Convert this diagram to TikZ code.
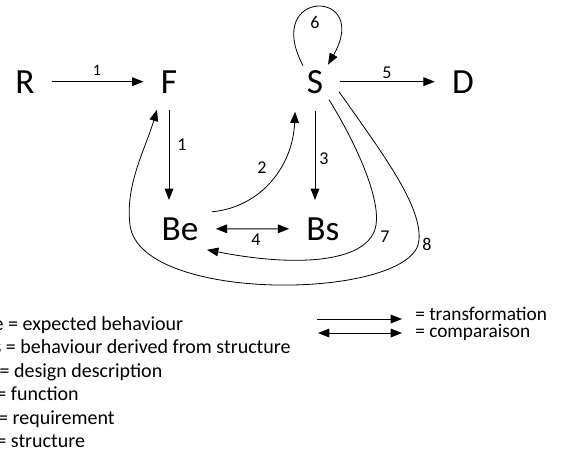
\documentclass[tikz,border=0pt]{standalone}
\usepackage{fontspec}
\setmainfont{Carlito}
\usetikzlibrary{arrows.meta}
\tikzset{
  letter/.style={inner sep=0pt, outer sep=13pt, anchor=base, font=\fontsize{26.5}{31}\selectfont},
  num/.style={inner sep=0.75pt, font=\fontsize{13.5}{16}\selectfont},
  legend/.style={inner sep=0pt, anchor=base west, font=\fontsize{15}{18}\selectfont},
  tip/.style={-{Triangle[length=8.5pt,width=6.5pt]}, line width=0.75pt},
  both/.style={{Triangle[length=8.5pt,width=6.5pt]}-{Triangle[length=8.5pt,width=6.5pt]}, line width=0.75pt},
  curve/.style={tip, line width=0.6pt}
}
\begin{document}
\begin{tikzpicture}[x=0.75pt,y=0.75pt,yscale=-1,xscale=1]
\useasboundingbox (0,0) rectangle (566,451);
\clip (0,0) rectangle (566,451);
\node[letter] (R) at (25,93) {R};
\node[letter] (F) at (169,93) {F};
\node[letter] (S) at (315,93) {S};
\node[letter] (D) at (463,93) {D};
\node[letter] (Be) at (180,240) {Be};
\node[letter] (Bs) at (323,240) {Bs};
\draw[tip] (R) -- (F);
\draw[tip] (F.south) -- (F.south |- Be.north);
\draw[tip] (S.south) -- (S.south |- Bs.north);
\draw[tip] (S.east) -- (S.east -| D.west);
\draw[both] (Be) -- (Bs);
\draw[curve] ([shift={(32,-17)}]Be.center) .. controls (262,207) and (293,165) .. ([shift={(-20,30)}]S.center);
\draw[curve] ([shift={(14,18)}]S.center) .. controls (360,150) and (380,200) .. (376,225) .. controls (370,262) and (300,268) .. ([shift={(27,21)}]Be.center);
\draw[curve] ([shift={(24,10)}]S.center) .. controls (380,150) and (422,205) .. (419,240) .. controls (415,300) and (140,305) .. (130,225) .. controls (125,185) and (145,150) .. ([shift={(-12,28)}]F.center);
\draw[curve] ([shift={(-12,-16)}]S.center) .. controls (262,-12) and (372,-12) .. ([shift={(13,-17)}]S.center);
\node[num, font=\fontsize{12}{14}\selectfont] (n1a) at (97,70) {1};
\node[num] (n1b) at (182,145) {1};
\node[num] (n2) at (262,168) {2};
\node[num] (n3) at (324,159) {3};
\node[num] (n4) at (256,240) {4};
\node[num] (n5) at (387,73) {5};
\node[num] (n6) at (315,22) {6};
\node[num] (n7) at (385,237) {7};
\node[num] (n8) at (427,244) {8};
\node[legend] (lBe) at (-17.5,330) {Be = expected behaviour};
\node[legend] (lBs) at (-17.5,353.5) {Bs = behaviour derived from structure};
\node[legend] (lD) at (-17.5,377) {D = design description};
\node[legend] (lF) at (-17.5,400.5) {F = function};
\node[legend] (lR) at (-17.5,424) {R = requirement};
\node[legend] (lS) at (-17.5,447.5) {S = structure};
\coordinate (tr0) at (317,319);
\coordinate (tr1) at (402,319);
\coordinate (cp0) at (318,333);
\coordinate (cp1) at (402,333);
\draw[tip] (tr0) -- (tr1);
\draw[both] (cp0) -- (cp1);
\node[legend, font=\fontsize{14.5}{17}\selectfont] (ltr) at (415,320) {= transformation};
\node[legend, font=\fontsize{14.5}{17}\selectfont] (lcp) at (415,337.5) {= comparaison};
\end{tikzpicture}
\end{document}
